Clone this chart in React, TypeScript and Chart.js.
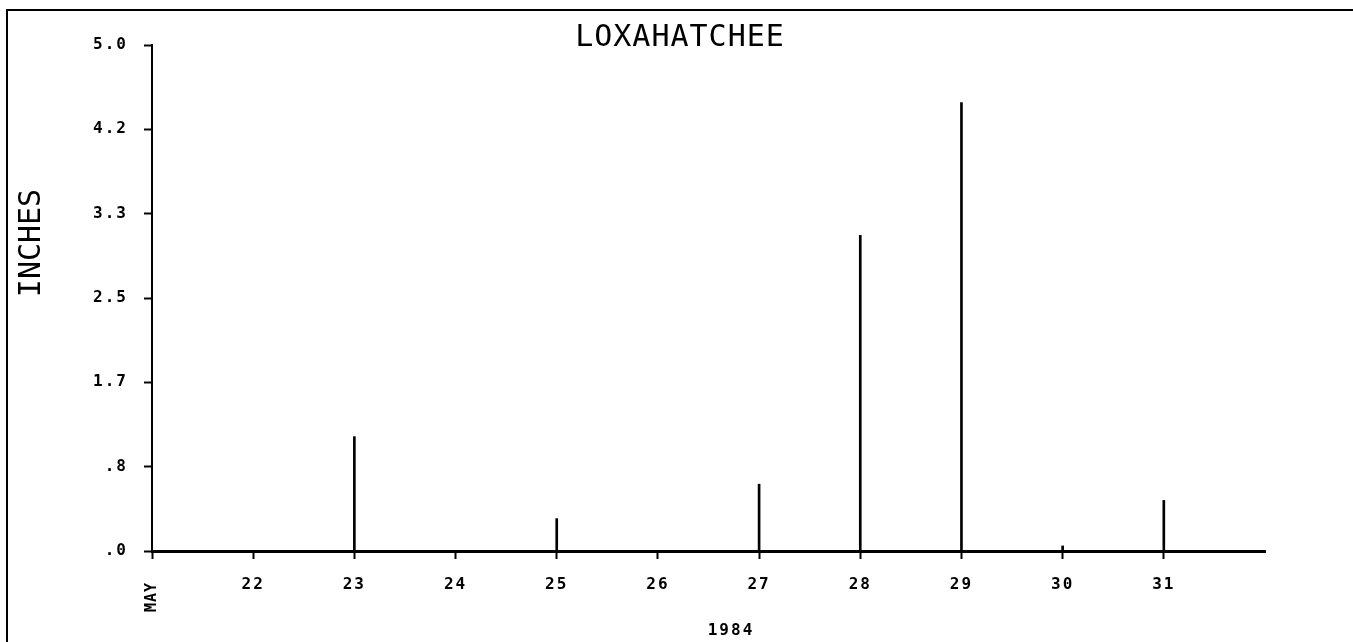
import React, { useEffect, useRef } from "react";
import { Chart, registerables } from "chart.js";

Chart.register(...registerables);

const chartTitle = "LOXAHATCHEE";
const yAxisTitle = "INCHES";
const xAxisTitle = "1984";
const monthLabel = "MAY";

const days = [23, 25, 27, 28, 29, 30, 31];
const rainfall = [1.13, 0.32, 0.66, 3.12, 4.43, 0.05, 0.5];

const yTickValues = [0, 0.8333, 1.6667, 2.5, 3.3333, 4.1667, 5.0];
const yTickLabels = [".0", ".8", "1.7", "2.5", "3.3", "4.2", "5.0"];

const xTickValues = [21, 22, 23, 24, 25, 26, 27, 28, 29, 30, 31];
const xTickLabels = ["", "22", "23", "24", "25", "26", "27", "28", "29", "30", "31"];

const FONT = "'DejaVu Sans Mono', monospace";

const annotate = {
  id: "annotate",
  beforeDraw(chart: any) {
    const ctx = chart.ctx;
    ctx.save();
    ctx.fillStyle = "#fff";
    ctx.fillRect(0, 0, chart.width, chart.height);
    ctx.restore();
    ctx.letterSpacing = "2px";
  },
  afterDraw(chart: any) {
    const ctx = chart.ctx;
    const xs = chart.scales.x;
    const area = chart.chartArea;
    ctx.save();
    // frame lines
    ctx.strokeStyle = "#000";
    ctx.lineWidth = 2;
    ctx.beginPath();
    ctx.moveTo(7, chart.height);
    ctx.lineTo(7, 10);
    ctx.lineTo(chart.width, 10);
    ctx.stroke();

    ctx.fillStyle = "#000";
    ctx.textAlign = "center";
    ctx.textBaseline = "middle";

    // title
    ctx.letterSpacing = "1px";
    ctx.font = `30px ${FONT}`;
    ctx.fillText(chartTitle, 680, 38);

    // y axis title
    ctx.letterSpacing = "0px";
    ctx.save();
    ctx.translate(32, 243);
    ctx.rotate(-Math.PI / 2);
    ctx.font = `30px ${FONT}`;
    ctx.fillText(yAxisTitle, 0, 0);
    ctx.restore();

    // month label, rotated
    ctx.letterSpacing = "1px";
    ctx.save();
    ctx.translate(xs.getPixelForValue(xTickValues[0]), area.bottom + 46);
    ctx.rotate(-Math.PI / 2);
    ctx.font = `bold 15px ${FONT}`;
    ctx.fillText(monthLabel, 0, 0);
    ctx.restore();

    // x axis title
    ctx.letterSpacing = "2px";
    ctx.font = `bold 16px ${FONT}`;
    ctx.fillText(xAxisTitle, 731, 631);

    ctx.restore();
    ctx.letterSpacing = "0px";
  },
};

export default function App() {
  const ref = useRef<HTMLCanvasElement | null>(null);

  useEffect(() => {
    if (!ref.current) return;
    const chart = new Chart(ref.current, {
      type: "bar",
      data: {
        datasets: [
          {
            data: days.map((d, i) => ({ x: d, y: rainfall[i] })),
            backgroundColor: "#000",
            borderWidth: 0,
            barThickness: 2,
          },
        ],
      },
      options: {
        animation: false,
        responsive: false,
        maintainAspectRatio: false,
        layout: { padding: { top: 45, right: 88, left: 0, bottom: 0 } },
        plugins: {
          legend: { display: false },
          tooltip: { enabled: false },
          title: { display: false },
        },
        scales: {
          x: {
            type: "linear",
            min: 21,
            max: 32,
            offset: false,
            afterFit: (s: any) => {
              s.height = 91;
            },
            afterBuildTicks: (s: any) => {
              s.ticks = xTickValues.map((v) => ({ value: v }));
            },
            grid: {
              offset: false,
              drawOnChartArea: false,
              drawTicks: true,
              tickLength: 8,
              tickWidth: 2,
              color: "#000",
            },
            border: { display: true, color: "#000", width: 3 },
            ticks: {
              color: "#000",
              padding: 16,
              maxRotation: 0,
              autoSkip: false,
              font: { family: FONT, size: 16, weight: "bold" },
              callback: (v: any) => {
                const i = xTickValues.indexOf(Number(v));
                return i >= 0 ? xTickLabels[i] : "";
              },
            },
          },
          y: {
            type: "linear",
            min: 0,
            max: 5,
            afterFit: (s: any) => {
              s.width = 152;
            },
            afterBuildTicks: (s: any) => {
              s.ticks = yTickValues.map((v) => ({ value: v }));
            },
            grid: {
              drawOnChartArea: false,
              drawTicks: true,
              tickLength: 8,
              tickWidth: 2,
              color: "#000",
            },
            border: { display: true, color: "#000", width: 2 },
            ticks: {
              color: "#000",
              padding: 16,
              autoSkip: false,
              font: { family: FONT, size: 16, weight: "bold" },
              callback: (v: any) => {
                const i = yTickValues.indexOf(Number(v));
                return i >= 0 ? yTickLabels[i] : "";
              },
            },
          },
        },
      },
      plugins: [annotate],
    });
    return () => chart.destroy();
  }, []);

  return (
    <div style={{ position: "fixed", left: 0, top: 0, width: 1353, height: 642, background: "#fff" }}>
      <canvas ref={ref} width={1353} height={642} />
    </div>
  );
}
